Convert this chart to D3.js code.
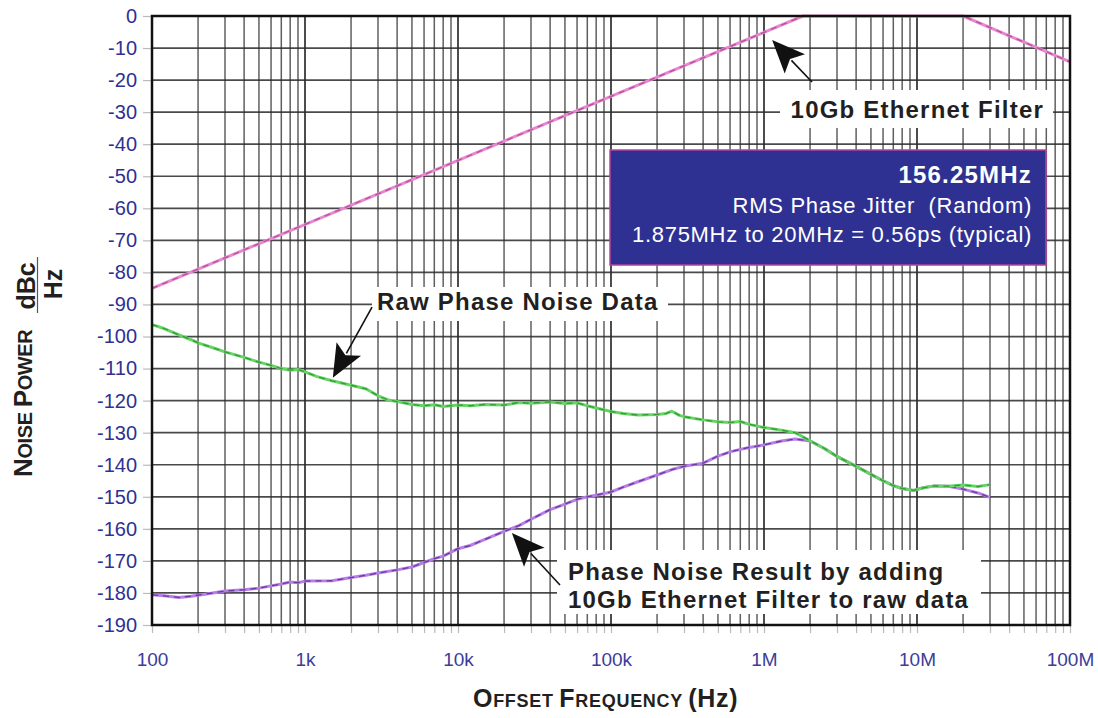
<!DOCTYPE html>
<html>
<head>
<meta charset="utf-8">
<script src="https://cdn.jsdelivr.net/npm/d3@7"></script>
<style>
  body { margin: 0; background: #fff; }
  svg { font-family: "Liberation Sans", Arial, Helvetica, sans-serif; }
</style>
</head>
<body>
<svg width="1098" height="718"></svg>
<script>
	// raw phase noise (green)
	var rawFreq = [100, 120, 150, 180, 200, 250, 300, 400, 500, 600, 700, 800, 900,
		1e3, 1.2e3, 1.5e3, 2e3, 2.5e3, 3e3, 3.5e3, 4e3, 5e3, 6e3, 7e3, 8e3,
		1e4, 1.2e4, 1.5e4, 2e4, 2.5e4, 3e4, 4e4, 5e4, 6e4, 7e4, 8e4,
		1e5, 1.2e5, 1.5e5, 2e5, 2.3e5, 2.5e5, 2.8e5, 3e5, 4e5, 5e5, 6e5, 7e5, 8e5,
		1e6, 1.3e6, 1.6e6, 2e6, 2.5e6, 3e6, 4e6, 5e6, 6e6, 7e6, 8e6, 9.5e6,
		1.1e7, 1.3e7, 1.6e7, 2e7, 2.5e7, 3e7];
	var rawDb = [-96.3, -97.5, -99.5, -101, -102, -103.5, -104.8, -106.5, -108, -109, -110, -110.5, -110.3,
		-111, -112.5, -113.8, -115.2, -116.3, -118.5, -119.8, -120.3, -121.2, -121.6, -121.3, -121.8,
		-121.4, -121.6, -121.2, -121.4, -120.6, -120.8, -120.4, -120.9, -120.7, -121.6, -122.3,
		-123.4, -124, -124.5, -124.3, -124, -123.3, -124.6, -125, -126, -126.6, -126.8, -126.5, -127.4,
		-128.4, -129.2, -130, -132.5, -135, -137.4, -140.5, -143, -145, -146.5, -147.4, -148,
		-147.2, -146.6, -146.7, -146.3, -146.8, -146.2];

	// phase noise with 10Gb ethernet filter applied (purple)
	var resFreq = [100, 120, 150, 180, 200, 250, 300, 400, 500, 600, 700, 800, 900,
		1e3, 1.5e3, 2e3, 2.5e3, 3e3, 4e3, 5e3, 6e3, 7e3, 8e3,
		1e4, 1.2e4, 1.5e4, 2e4, 2.5e4, 3e4, 4e4, 5e4, 6e4, 7e4, 8e4,
		1e5, 1.2e5, 1.5e5, 2e5, 2.5e5, 3e5, 4e5, 5e5, 6e5, 7e5, 8e5,
		1e6, 1.3e6, 1.6e6, 2e6, 2.5e6, 3e6, 4e6, 5e6, 6e6, 7e6, 8e6, 9.5e6,
		1.1e7, 1.3e7, 1.6e7, 2e7, 2.5e7, 3e7];
	var resDb = [-180.6, -180.9, -181.4, -181, -180.7, -180, -179.4, -179, -178.5, -177.8, -177.2, -176.6, -176.8,
		-176.3, -176.2, -175.2, -174.5, -173.8, -172.8, -171.9, -170.5, -169.3, -168.5,
		-166.2, -165.2, -163.3, -160.8, -159, -157, -154, -152.3, -150.8, -150, -149.5,
		-148.5, -147, -145.3, -143.2, -141.5, -140.5, -139.5, -137.3, -136, -135.2, -134.6,
		-133.8, -132.6, -132, -132.6, -135, -137.4, -140.5, -143, -145, -146.5, -147.4, -148,
		-147.2, -146.6, -146.7, -147.6, -148.8, -150.2];

	// filter mask (magenta)
	var filterFreq = [100, 1.8e6, 2e7, 1e8];
	var filterDb = [-85, 0, 0, -14.3];

	var xTicks = [1e2, 1e3, 1e4, 1e5, 1e6, 1e7, 1e8];
	var xTickLabels = ['100', '1k', '10k', '100k', '1M', '10M', '100M'];
	var yTicks = [0, -10, -20, -30, -40, -50, -60, -70, -80, -90, -100,
		-110, -120, -130, -140, -150, -160, -170, -180, -190];

	var pLeft = 152, pRight = 1070, pTop = 16, pBottom = 625;
	var blue = '#2e3192';

	var svg = d3.select('svg');

	var x = d3.scaleLog().domain([100, 1e8]).range([pLeft, pRight]);
	var y = d3.scaleLinear().domain([-190, 0]).range([pBottom, pTop]);

	// grid
	var grid = svg.append('g');
	grid.selectAll('line.v')
		.data(x.ticks())
		.enter().append('line')
			.attr('class', 'v')
			.attr('x1', function(d) { return x(d) })
			.attr('x2', function(d) { return x(d) })
			.attr('y1', pTop)
			.attr('y2', pBottom)
			.style('stroke', function(d) { return xTicks.indexOf(d) >= 0 ? '#222' : '#444' })
			.style('stroke-width', function(d) { return xTicks.indexOf(d) >= 0 ? 1.9 : 1.5 })
			.style('stroke-opacity', 0.85);
	grid.selectAll('line.h')
		.data(yTicks)
		.enter().append('line')
			.attr('class', 'h')
			.attr('x1', pLeft)
			.attr('x2', pRight)
			.attr('y1', function(d) { return y(d) })
			.attr('y2', function(d) { return y(d) })
			.style('stroke', '#2a2a2a')
			.style('stroke-width', 1.7)
			.style('stroke-opacity', 0.85);

	// axes
	var ya = svg.append('g')
		.attr('transform', 'translate(' + pLeft + ',0)')
		.call(d3.axisLeft(y).tickValues(yTicks).tickSize(9).tickPadding(6)
			.tickFormat(function(d) { return String(d) }));
	var xa = svg.append('g')
		.attr('transform', 'translate(0,' + pBottom + ')')
		.call(d3.axisBottom(x).tickValues(x.ticks()).tickSize(8).tickPadding(20)
			.tickFormat(function(d) { var i = xTicks.indexOf(d); return i >= 0 ? xTickLabels[i] : '' }));
	[ya, xa].forEach(function(a) {
		a.select('.domain').remove();
		a.selectAll('.tick line').style('stroke', '#bbb').style('stroke-width', 1.2);
		a.selectAll('.tick text').style('fill', blue).attr('font-family', null);
	});
	ya.selectAll('.tick text').style('font-size', '20px');
	xa.selectAll('.tick text').style('font-size', '19px').style('fill', '#3b3d9a');

	// curves
	var line = d3.line()
		.x(function(d) { return x(d[0]) })
		.y(function(d) { return y(d[1]) });

	function curve(fr, db, light, dark) {
		var pts = d3.zip(fr, db);
		svg.append('path').datum(pts)
			.attr('d', line)
			.style('fill', 'none').style('stroke', light)
			.style('stroke-width', 3).style('stroke-linejoin', 'round');
		svg.append('path').datum(pts)
			.attr('d', line)
			.style('fill', 'none').style('stroke', dark)
			.style('stroke-width', 1.3).style('stroke-opacity', 0.75)
			.style('stroke-dasharray', '6,5');
	}
	curve(filterFreq, filterDb, '#e68ad0', '#b3368f');
	curve(resFreq, resDb, '#b77ee6', '#4f2388');
	curve(rawFreq, rawDb, '#66d466', '#238a23');

	// frame
	svg.append('rect')
		.attr('x', pLeft).attr('y', pTop)
		.attr('width', pRight - pLeft).attr('height', pBottom - pTop)
		.style('fill', 'none').style('stroke', '#111').style('stroke-width', 2.5);

	// labels on white boxes
	function label(bx, by, bw, bh, lines, tx, anchor) {
		svg.append('rect').attr('x', bx).attr('y', by).attr('width', bw).attr('height', bh)
			.style('fill', '#fff');
		lines.forEach(function(l) {
			svg.append('text')
				.attr('x', tx).attr('y', l[1])
				.attr('text-anchor', anchor)
				.style('font-size', '24px').style('font-weight', 'bold')
				.style('letter-spacing', '1.2px').style('fill', '#231f20')
				.text(l[0]);
		});
	}
	label(780, 90, 273, 38, [['10Gb Ethernet Filter', 118]], 1044, 'end');
	label(372, 287, 296, 34, [['Raw Phase Noise Data', 310]], 377, 'start');
	label(557, 550, 424, 64, [['Phase Noise Result by adding', 580], ['10Gb Ethernet Filter to raw data', 608]], 568, 'start');

	// arrows: [tail freq, tail dB, tip freq, tip dB]
	var arrows = [[2.06e6, -20.6, 1.13e6, -7.5], [2742, -90.8, 1520, -112.9], [46400, -177.5, 22500, -161.3]];
	arrows.forEach(function(a) {
		var x1 = x(a[0]), y1 = y(a[1]), x2 = x(a[2]), y2 = y(a[3]);
		var dx = x2 - x1, dy = y2 - y1, len = Math.sqrt(dx * dx + dy * dy);
		var ux = dx / len, uy = dy / len, hl = 33, hw = 14;
		var bx = x2 - ux * hl, by = y2 - uy * hl;
		svg.append('line').attr('x1', x1).attr('y1', y1).attr('x2', bx + ux * 5).attr('y2', by + uy * 5)
			.style('stroke', '#111').style('stroke-width', 1.6);
		svg.append('path')
			.attr('d', 'M' + x2 + ',' + y2 + 'L' + (bx - uy * hw) + ',' + (by + ux * hw) +
				'L' + (bx + ux * 7) + ',' + (by + uy * 7) +
				'L' + (bx + uy * hw) + ',' + (by - ux * hw) + 'Z')
			.style('fill', '#111');
	});

	// jitter box
	svg.append('rect')
		.attr('x', 610).attr('y', 150).attr('width', 436).attr('height', 115)
		.style('fill', blue).style('stroke', '#b4449c').style('stroke-width', 1.5);
	svg.append('text').attr('x', 1032).attr('y', 183).attr('text-anchor', 'end')
		.style('fill', '#fff').style('font-size', '24px').style('font-weight', 'bold')
		.style('letter-spacing', '1.2px').text('156.25MHz');
	svg.append('text').attr('x', 1032).attr('y', 213).attr('text-anchor', 'end')
		.style('fill', '#fff').style('font-size', '22px').style('letter-spacing', '0.7px')
		.style('white-space', 'pre').text('RMS Phase Jitter  (Random)');
	svg.append('text').attr('x', 1032).attr('y', 242).attr('text-anchor', 'end')
		.style('fill', '#fff').style('font-size', '22px').style('letter-spacing', '0.7px')
		.text('1.875MHz to 20MHz = 0.56ps (typical)');

	// x title, small caps
	var xt = svg.append('text').attr('x', 473).attr('y', 707)
		.style('font-weight', 'bold').style('fill', '#231f20').style('letter-spacing', '0.7px')
		.style('white-space', 'pre');
	[['O', 25], ['FFSET ', 18], ['F', 25], ['REQUENCY ', 18], ['(Hz)', 25]].forEach(function(p) {
		xt.append('tspan').style('font-size', p[1] + 'px').text(p[0]);
	});

	// y title, small caps + fraction
	var yt = svg.append('text').attr('transform', 'translate(32,477) rotate(-90)')
		.style('font-weight', 'bold').style('fill', '#231f20').style('letter-spacing', '-0.4px')
		.style('white-space', 'pre');
	[['N', 26], ['OISE ', 20], ['P', 26], ['OWER', 20]].forEach(function(p) {
		yt.append('tspan').style('font-size', p[1] + 'px').text(p[0]);
	});
	svg.append('text').attr('transform', 'translate(35,286) rotate(-90)').attr('text-anchor', 'middle')
		.style('font-weight', 'bold').style('font-size', '25px').style('fill', '#231f20').text('dBc');
	svg.append('line').attr('x1', 37.5).attr('x2', 37.5).attr('y1', 257).attr('y2', 313)
		.style('stroke', '#555').style('stroke-width', 1.2);
	svg.append('text').attr('transform', 'translate(62,284) rotate(-90)').attr('text-anchor', 'middle')
		.style('font-weight', 'bold').style('font-size', '25px').style('fill', '#231f20').text('Hz');
</script>
</body>
</html>
